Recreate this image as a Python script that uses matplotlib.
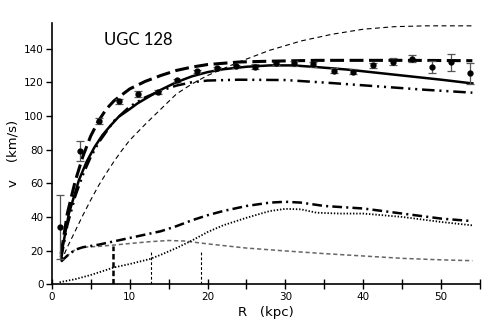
import matplotlib
matplotlib.use("Agg")
import matplotlib.pyplot as plt

# observed rotation curve
r_obs = [1.1, 3.6, 6.1, 8.7, 11.1, 13.6, 16.1, 18.6, 21.2, 23.7, 26.1,
         28.8, 31.1, 33.6, 36.2, 38.7, 41.3, 43.8, 46.2, 48.8, 51.2, 53.7]
v_obs = [34, 79, 97, 108.8, 113, 114.3, 121.2, 126.4, 128.2, 129.4, 129.1,
         131.2, 131.2, 130.7, 126.8, 126.2, 130.1, 132.1, 133.9, 129.1, 131.9, 125.2]
v_err = [19, 6, 2, 1.5, 1.5, 1, 1, 1, 1, 1, 1.5,
         1, 1.5, 1.5, 1.5, 1.5, 1.5, 2, 2, 3.5, 5, 6]

# model: total (solid)
r_tot = [1.2, 2.2, 3.5, 4.5, 5.5, 6.5, 7.5, 8.6, 10, 11, 12.5, 14, 16, 18,
         20, 22, 25, 28, 31, 34, 38, 42, 46, 50, 54]
v_tot = [17, 42, 62, 73, 81.5, 88.5, 94, 99.5, 104, 107.4, 111.5, 115.5,
         120, 123.5, 126, 127.7, 129.2, 130, 130, 129, 127.5, 125.5, 123.5,
         121.5, 119.3]

# long dashed
r_ld = [1.2, 2, 3, 4, 5, 6, 7, 8, 10, 12, 14, 16, 18, 20, 24, 28, 34, 40, 46, 54]
v_ld = [18, 42, 61, 76, 88, 97, 104, 109, 116, 120.5, 124, 127, 129, 130.5,
        132, 132.5, 133, 133, 133, 132.8]

# dash-dot-dot (upper)
r_ddd = [1.2, 2, 3, 4, 5, 6, 8, 10, 12, 14, 16, 18, 20, 24, 30, 36, 42, 48, 54]
v_ddd = [15, 35, 52, 65, 75.5, 84, 97, 105.5, 111, 115, 118, 120, 121, 121.5,
         121.3, 119.5, 117.5, 115.5, 113.8]

# thin dashed (upper)
r_td = [1.2, 2, 3, 4, 5, 6, 7, 8, 9, 10, 12, 14, 16, 18, 20, 22, 24, 28,
        32, 36, 40, 44, 48, 54]
v_td = [13.5, 22, 31.5, 41, 50, 58.5, 66, 73, 79.5, 85.5, 95, 104, 113, 119,
        124, 128, 132, 139, 144.5, 148.5, 151.5, 153, 153.5, 153.5]

# dash-dot (lower)
r_dd = [1.2, 2, 3, 4, 6, 8, 10, 12, 14, 16, 18, 20, 22, 25, 28, 30, 32, 35,
        40, 45, 50, 54]
v_dd = [13.5, 17, 20.5, 22, 23.5, 25.5, 27.5, 29.5, 31.5, 34.5, 38, 41, 43.5,
        46.5, 48.5, 49, 48.5, 46.5, 45, 42, 39, 37.5]

# dotted
r_dot = [1, 3, 5, 8, 10, 12.6, 14, 16, 18, 20, 22, 25, 28, 30, 32, 34, 37,
         40, 45, 50, 54]
v_dot = [1.2, 3, 5.5, 10, 12, 15, 17.5, 21.5, 26, 31, 35, 39.5, 43.5, 44.8,
         44.5, 42.5, 42, 42, 40, 37, 35]

# gray dashed (lower)
r_gas = [1.2, 2, 3, 4, 6, 8, 10, 12.6, 15, 17, 20, 25, 30, 35, 40, 45, 50, 54]
v_gas = [13.5, 17, 20.5, 22, 22.5, 23.3, 24.2, 25.3, 26, 25.7, 24, 21.5,
         19.8, 18.2, 16.8, 15.4, 14.5, 14]

# vertical markers
vline_r = [7.9, 12.8, 19.1]
vline_top = [23, 20, 20]

plt.rcParams['lines.scale_dashes'] = False
plt.rcParams['font.family'] = ['DejaVu Sans']

fig = plt.figure(figsize=(4.95, 3.26), dpi=100)
ax = fig.add_axes([0.1045, 0.128, 0.8655, 0.8005])

ax.plot(r_td, v_td, color='black', lw=0.8, dashes=(3.5, 2.5))
ax.plot(r_gas, v_gas, color='#666666', lw=1.1, dashes=(3, 2))
ax.plot(r_dot, v_dot, color='black', lw=1.3, dashes=(1, 1.3))
ax.plot(r_dd, v_dd, color='black', lw=1.8, dashes=(7, 3, 1.5, 3))
ax.plot(r_ddd, v_ddd, color='black', lw=1.8, dashes=(9, 3.5, 1.5, 3.5, 1.5, 3.5))
ax.plot(r_ld, v_ld, color='black', lw=2.2, dashes=(10, 4))
ax.plot(r_tot, v_tot, color='black', lw=1.8)

ax.vlines(vline_r[0], 0, vline_top[0], color='black', lw=1.8, linestyles=(0, (4, 2)))
ax.vlines(vline_r[1:], 0, vline_top[1:], color='black', lw=0.8, linestyles=(0, (2, 1.5)))

ax.errorbar(r_obs, v_obs, yerr=v_err, fmt='none', ecolor='#555555',
            elinewidth=0.9, capsize=3, capthick=0.9, zorder=3)
ax.plot(r_obs, v_obs, 'o', color='black', ms=3.5, zorder=4)

ax.set_xlim(0, 55)
ax.set_ylim(0, 155)
ax.set_xticks([0, 10, 20, 30, 40, 50])
ax.set_xticks([5, 15, 25, 35, 45, 55], minor=True)
ax.set_yticks([0, 20, 40, 60, 80, 100, 120, 140])
ax.tick_params(axis='x', which='both', direction='inout', length=7, width=1,
               labelsize=7.5, pad=2)
ax.tick_params(axis='y', direction='out', length=4, width=1, labelsize=7.5, pad=2)
for s in ['top', 'right']:
    ax.spines[s].set_visible(False)
for s in ['left', 'bottom']:
    ax.spines[s].set_linewidth(1.2)

ax.set_xlabel('R   (kpc)', fontsize=9.5, labelpad=3)
ax.set_ylabel('v    (km/s)', fontsize=9.5, labelpad=3)
ax.text(0.2015, 0.936, 'UGC 128', transform=ax.transAxes, ha='center',
        va='center', fontsize=12, family=['Lato', 'DejaVu Sans'])

fig.savefig('out.png', dpi=100)
